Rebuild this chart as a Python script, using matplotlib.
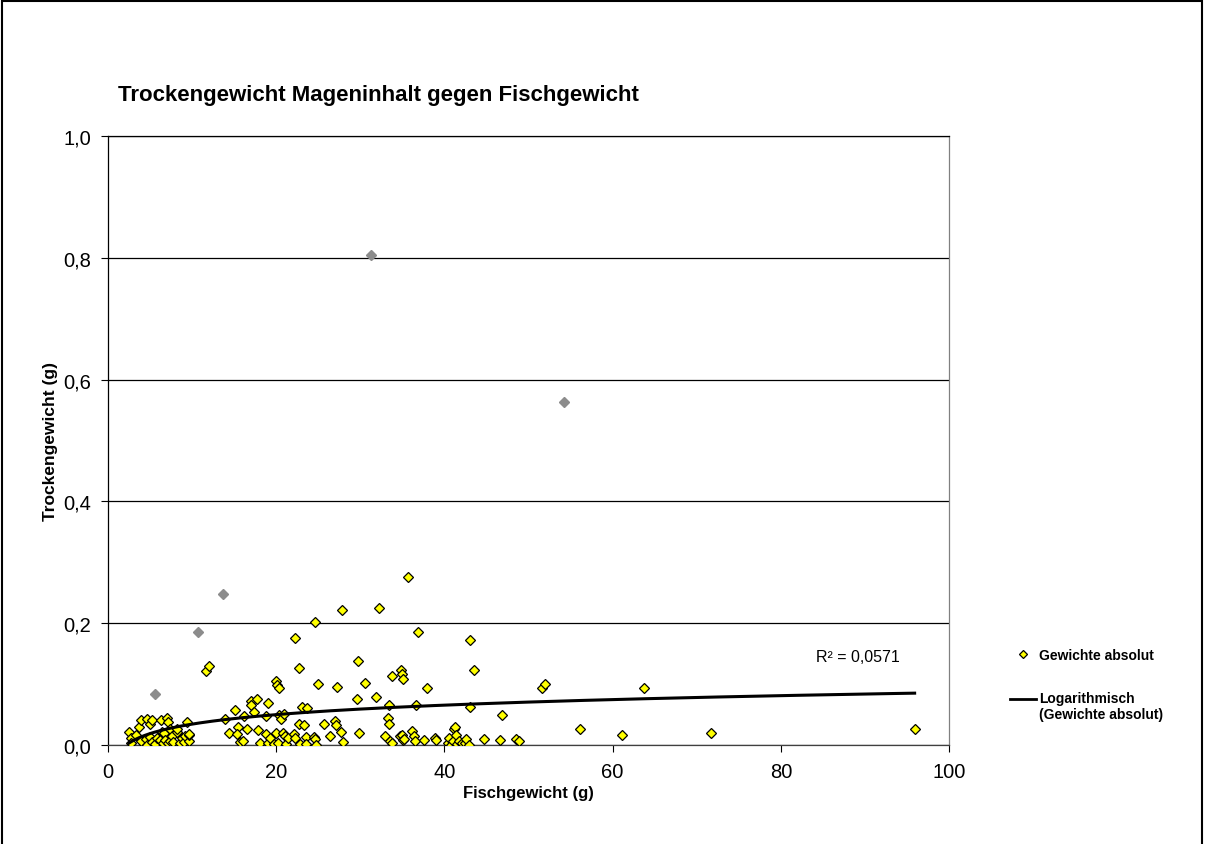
import numpy as np
import matplotlib
matplotlib.use("Agg")
from matplotlib import pyplot as plt
from matplotlib.lines import Line2D
from matplotlib.patches import Rectangle
from matplotlib.legend_handler import HandlerLine2D

plt.rcParams["font.family"] = ["Liberation Sans", "DejaVu Sans"]

# Fischgewicht (g) / Trockengewicht Mageninhalt (g)
fish_weight = [
    2.5, 2.8, 2.7, 3.4, 3.7, 3.9, 4.0, 4.5, 4.6, 4.6, 5.0, 5.0, 5.2, 5.3, 5.6,
    5.9, 6.2, 6.3, 6.4, 6.5, 6.7, 6.8, 7.0, 7.1, 7.2, 7.4, 7.4, 7.6, 7.8, 8.2,
    8.2, 8.6, 8.8, 9.0, 9.2, 9.4, 9.6, 9.7, 9.7,
    11.7, 12.0, 13.95, 14.35, 15.16, 15.46, 15.36, 15.76, 16.07, 16.2, 16.57,
    16.97, 17.07, 17.38, 17.68, 17.88, 18.08, 18.79, 18.79, 19.0, 19.09, 19.29,
    19.8, 19.95, 19.95, 20.1, 20.2, 20.3, 20.4, 20.6, 20.8, 21.0, 21.1, 21.2,
    21.4, 22.1, 22.2, 22.3, 22.7, 22.7, 22.8, 23.1, 23.3, 23.6, 23.7, 23.5,
    24.5, 24.6, 24.6, 24.8, 25.0, 25.75, 26.36, 27.06, 27.16, 27.26, 27.67,
    27.87, 27.97, 29.6, 29.79, 29.89, 30.6, 31.9, 32.2, 32.9, 33.32, 33.42,
    33.42, 33.52, 33.72, 33.82, 34.73, 34.83, 34.93, 34.93, 35.03, 35.13,
    35.24, 35.74, 36.14, 36.44, 36.55, 36.65, 36.85, 37.55, 37.96, 38.87,
    38.97, 40.38, 40.58, 40.78, 40.98, 41.09, 41.29, 41.39, 41.49, 41.69,
    42.1, 42.4, 42.6, 42.9, 43.0, 43.1, 43.5, 44.7, 46.6, 46.9, 48.55, 48.85,
    51.6, 51.98, 56.1, 61.06, 63.7, 71.66, 95.9,
]
dry_weight = [
    0.022, 0.011, 0.004, 0.016, 0.030, 0.041, 0.007, 0.010, 0.042, 0.000,
    0.013, 0.034, 0.005, 0.041, 0.001, 0.012, 0.008, 0.041, 0.021, 0.003,
    0.019, 0.008, 0.044, 0.037, 0.003, 0.006, 0.027, 0.014, 0.005, 0.021,
    0.027, 0.003, 0.011, 0.005, 0.015, 0.037, 0.006, 0.016, 0.018,
    0.121, 0.129, 0.043, 0.020, 0.057, 0.029, 0.018, 0.005, 0.006, 0.048,
    0.027, 0.073, 0.066, 0.054, 0.075, 0.024, 0.004, 0.048, 0.018, 0.004,
    0.069, 0.012, 0.002, 0.105, 0.020, 0.099, 0.003, 0.094, 0.049, 0.043,
    0.019, 0.051, 0.014, 0.002, 0.012, 0.018, 0.012, 0.176, 0.127, 0.035,
    0.002, 0.063, 0.033, 0.013, 0.061, 0.002, 0.013, 0.202, 0.009, 0.000,
    0.100, 0.034, 0.015, 0.040, 0.032, 0.095, 0.021, 0.221, 0.005, 0.075,
    0.138, 0.020, 0.102, 0.078, 0.225, 0.015, 0.045, 0.034, 0.065, 0.007,
    0.113, 0.003, 0.015, 0.123, 0.116, 0.017, 0.108, 0.008, 0.010, 0.275,
    0.023, 0.015, 0.007, 0.066, 0.186, 0.008, 0.094, 0.011, 0.008, 0.004,
    0.011, 0.000, 0.007, 0.026, 0.029, 0.017, 0.002, 0.007, 0.004, 0.003,
    0.010, 0.000, 0.063, 0.172, 0.123, 0.010, 0.008, 0.049, 0.009, 0.007,
    0.093, 0.100, 0.026, 0.017, 0.093, 0.020, 0.026,
]

# the grey points
outlier_weight = [5.6, 10.7, 13.7, 31.3, 54.2]
outlier_dry = [0.083, 0.185, 0.248, 0.805, 0.563]

# logarithmic trend y = a*ln(x) + b
log_a = 0.0225
log_b = -0.0176
r_squared_text = "R² = 0,0571"

x_ticks = [0, 20, 40, 60, 80, 100]
y_ticks = [0.0, 0.2, 0.4, 0.6, 0.8, 1.0]
y_tick_labels = ["0,0", "0,2", "0,4", "0,6", "0,8", "1,0"]


class TopLine(HandlerLine2D):
    # put the legend line next to the first text line, like Excel does
    def create_artists(self, legend, orig_handle, xdescent, ydescent,
                       width, height, fontsize, trans):
        artists = super().create_artists(legend, orig_handle, xdescent,
                                         ydescent, width, height, fontsize,
                                         trans)
        for a in artists:
            a.set_ydata(np.asarray(a.get_ydata()) + 0.58 * fontsize)
        return artists


fig = plt.figure(figsize=(12.06, 8.45), dpi=100)
ax = fig.add_axes([0.0894, 0.1172, 0.6976, 0.7207])

ax.set_xlim(0, 100)
ax.set_ylim(0, 1.0)
ax.set_xticks(x_ticks)
ax.set_xticklabels([str(t) for t in x_ticks])
ax.set_yticks(y_ticks)
ax.set_yticklabels(y_tick_labels)
ax.tick_params(direction="out", length=5, width=0.8, labelsize=14.5, pad=7)

ax.grid(axis="y", color="black", linewidth=0.9, zorder=0)
ax.set_axisbelow(True)
ax.spines["top"].set_color("black")
ax.spines["right"].set_color("#808080")
ax.spines["left"].set_color("black")
ax.spines["bottom"].set_color("#404040")
for s in ax.spines.values():
    s.set_linewidth(0.9)

ax.plot(outlier_weight, outlier_dry, linestyle="none", marker="D",
        markersize=4.6, markerfacecolor="#8c8c8c", markeredgecolor="#8c8c8c",
        zorder=3)
ax.plot(fish_weight, dry_weight, linestyle="none", marker="D", markersize=5,
        markerfacecolor="#ffff00", markeredgecolor="black",
        markeredgewidth=0.9, zorder=3)

xs = np.linspace(min(fish_weight), max(fish_weight), 300)
ax.plot(xs, log_a * np.log(xs) + log_b, color="black", linewidth=2.2, zorder=4)

ax.text(84.2, 0.146, r_squared_text, fontsize=11.5, va="center", ha="left")

ax.set_xlabel("Fischgewicht (g)", fontsize=12, fontweight="bold", labelpad=3)
ax.set_ylabel("Trockengewicht (g)", fontsize=12.5, fontweight="bold", labelpad=4)

fig.text(0.098, 0.887, "Trockengewicht Mageninhalt gegen Fischgewicht",
         fontsize=16, fontweight="bold", va="center", ha="left")

marker_handle = Line2D([], [], linestyle="none", marker="D", markersize=4.5,
                       markerfacecolor="#ffff00", markeredgecolor="black",
                       markeredgewidth=0.9)
line_handle = Line2D([], [], color="black", linewidth=2)
fig.legend([marker_handle, line_handle],
           ["Gewichte absolut", "Logarithmisch\n(Gewichte absolut)"],
           loc="upper left", bbox_to_anchor=(0.827, 0.247), frameon=False,
           prop={"size": 10, "weight": "bold"}, handlelength=1.9,
           handletextpad=0.2, labelspacing=2.1,
           handler_map={line_handle: TopLine()})

fig.patches.append(Rectangle((0.002, -0.02), 0.995, 1.018,
                             transform=fig.transFigure, fill=False,
                             edgecolor="black", linewidth=1.5))

fig.savefig("out.png", dpi=100)
